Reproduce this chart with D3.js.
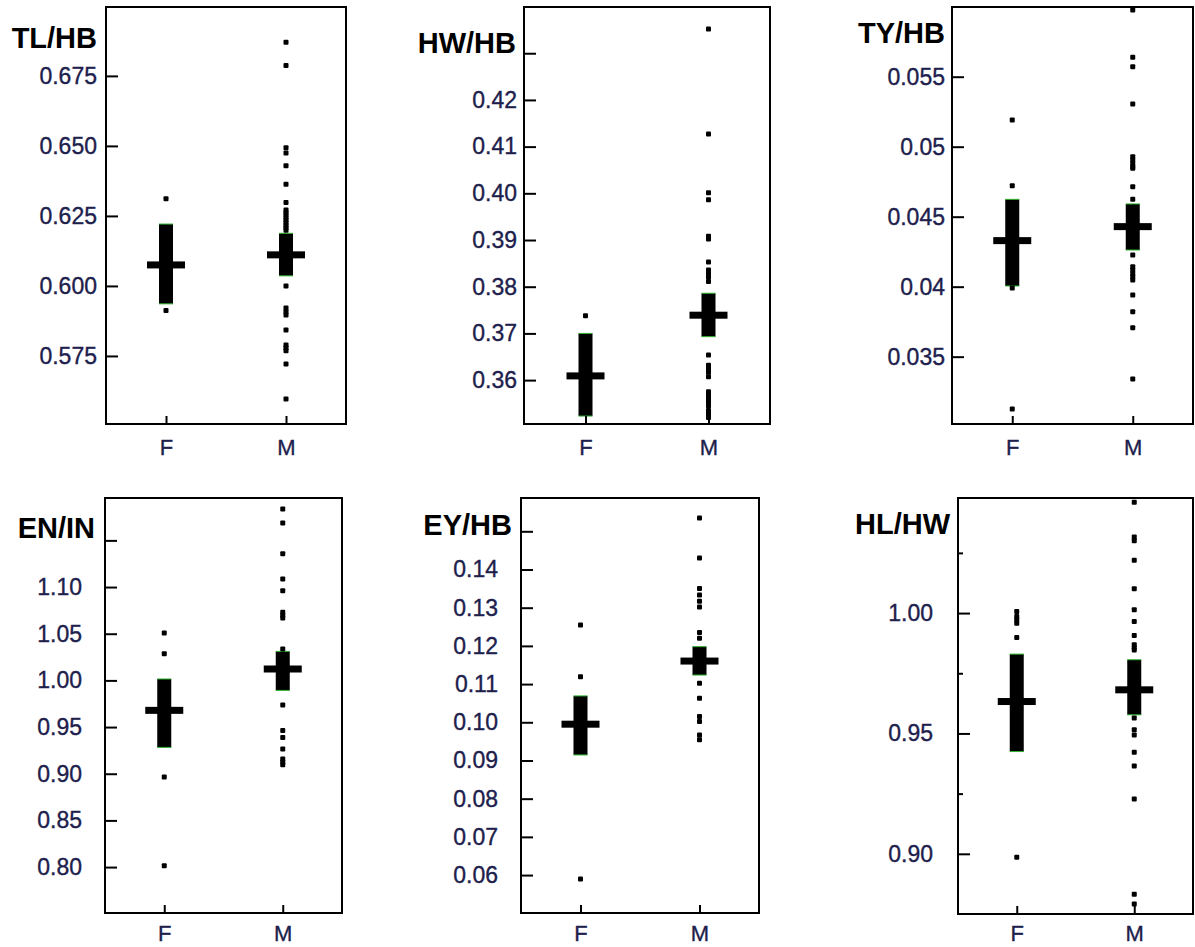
<!DOCTYPE html>
<html>
<head>
<meta charset="utf-8">
<script src="https://cdn.jsdelivr.net/npm/d3@7"></script>
<style>
  body { margin: 0; background: #fff; }
  svg { display: block; font-family: "Liberation Sans", Arial, sans-serif; }
  .tick text { fill: #20204c; stroke: #20204c; stroke-width: 0.35px; font-size: 23px; }
  .title { font-weight: bold; font-size: 29px; fill: #000; }
</style>
</head>
<body>
<svg id="chart" width="1195" height="947"></svg>
<script>
const groups = ["F", "M"]
const titles = ["TL/HB", "HW/HB", "TY/HB", "EN/IN", "EY/HB", "HL/HW"]

// TL/HB
const tlhbDomain = [0.5507, 0.6996]
const tlhbTicks = [0.575, 0.600, 0.625, 0.650, 0.675]
const tlhbTickLabels = ["0.575", "0.600", "0.625", "0.650", "0.675"]
const tlhbMean = [0.6075, 0.6111]
const tlhbBox = [[0.5936, 0.6221], [0.6036, 0.6188]]
const tlhbDotsF = [0.6311, 0.5912]
const tlhbDotsM = [0.6870, 0.6787, 0.6493, 0.6475, 0.6429, 0.6363, 0.6298, 0.6271, 0.6262, 0.6253, 0.6244, 0.6235,
  0.6226, 0.6217, 0.6208, 0.6199, 0.6000, 0.5921, 0.5908, 0.5896, 0.5843, 0.5789, 0.5779, 0.5769, 0.5721, 0.5596]

// HW/HB
const hwhbDomain = [0.3506, 0.4399]
const hwhbTicks = [0.36, 0.37, 0.38, 0.39, 0.40, 0.41, 0.42, 0.43]
const hwhbTickLabels = ["0.36", "0.37", "0.38", "0.39", "0.40", "0.41", "0.42", ""]
const hwhbMean = [0.3609, 0.3739]
const hwhbBox = [[0.3523, 0.3700], [0.3693, 0.3786]]
const hwhbDotsF = [0.3738]
const hwhbDotsM = [0.4352, 0.4127, 0.4001, 0.3986, 0.3908, 0.3902, 0.3853, 0.3836, 0.3829, 0.3821, 0.3811, 0.3654,
  0.3632, 0.3625, 0.3617, 0.3607, 0.3575, 0.3568, 0.3560, 0.3553, 0.3545, 0.3535, 0.3528, 0.3520]

// TY/HB
const tyhbDomain = [0.03019, 0.05998]
const tyhbTicks = [0.035, 0.040, 0.045, 0.050, 0.055]
const tyhbTickLabels = ["0.035", "0.04", "0.045", "0.05", "0.055"]
const tyhbMean = [0.04329, 0.04429]
const tyhbBox = [[0.04005, 0.04624], [0.04262, 0.04591]]
const tyhbDotsF = [0.0519, 0.04721, 0.0399, 0.03126]
const tyhbDotsM = [0.05976, 0.05639, 0.05571, 0.05305, 0.04929, 0.04905, 0.04881, 0.04857, 0.04846, 0.04714, 0.04624,
  0.04226, 0.04143, 0.04120, 0.04095, 0.04071, 0.04048, 0.03941, 0.03821, 0.03707, 0.03341]

// EN/IN
const eninDomain = [0.7508, 1.1954]
const eninTicks = [0.80, 0.85, 0.90, 0.95, 1.00, 1.05, 1.10, 1.15]
const eninTickLabels = ["0.80", "0.85", "0.90", "0.95", "1.00", "1.05", "1.10", ""]
const eninMean = [0.9679, 1.0122]
const eninBox = [[0.9282, 1.0015], [0.9893, 1.0311]]
const eninDotsF = [1.0508, 1.0286, 0.8965, 0.8015]
const eninDotsM = [1.1836, 1.1686, 1.1357, 1.1086, 1.0961, 1.0729, 1.0698, 1.0668, 1.0336, 0.9736, 0.9464, 0.9389,
  0.9265, 0.9158, 0.9127, 0.9097]

// EY/HB
const eyhbDomain = [0.05007, 0.15872]
const eyhbTicks = [0.06, 0.07, 0.08, 0.09, 0.10, 0.11, 0.12, 0.13, 0.14, 0.15]
const eyhbTickLabels = ["0.06", "0.07", "0.08", "0.09", "0.10", "0.11", "0.12", "0.13", "0.14", ""]
const eyhbMean = [0.0995, 0.11603]
const eyhbBox = [[0.09145, 0.1069], [0.11237, 0.1198]]
const eyhbDotsF = [0.12544, 0.1119, 0.05895]
const eyhbDotsM = [0.1535, 0.1430, 0.1350, 0.1333, 0.1317, 0.1302, 0.1235, 0.1220, 0.1102, 0.1063, 0.1015, 0.1002,
  0.0967, 0.0954]

// HL/HW
const hlhwDomain = [0.875, 1.0478]
const hlhwTicks = [0.90, 0.95, 1.00]
const hlhwTickLabels = ["0.90", "0.95", "1.00"]
const hlhwMinorTicks = [0.925, 0.975, 1.025]
const hlhwMean = [0.96326, 0.96812]
const hlhwBox = [[0.94248, 0.98296], [0.95773, 0.9806]]
const hlhwDotsF = [1.0007, 0.9986, 0.9972, 0.9958, 0.9899, 0.8986]
const hlhwDotsM = [1.046, 1.0316, 1.0300, 1.0219, 1.0101, 1.0014, 0.9965, 0.9907, 0.9868, 0.9857, 0.9847, 0.9564,
  0.9515, 0.9494, 0.9422, 0.9365, 0.9228, 0.8832, 0.8792]

// frame placement of each panel, in pixels
const layout = [
  {x0: 106, x1: 346, y0: 7, y1: 424, gap: 9, xpad: 15, tx: 97, ty: 48},
  {x0: 524, x1: 770, y0: 7, y1: 424, gap: 7, xpad: 15, tx: 516, ty: 53},
  {x0: 952, x1: 1193, y0: 7, y1: 424, gap: 7, xpad: 15, tx: 945, ty: 43},
  {x0: 105, x1: 342, y0: 498, y1: 913, gap: 23, xpad: 12, tx: 95, ty: 538},
  {x0: 521, x1: 759, y0: 498, y1: 913, gap: 23, xpad: 12, tx: 512, ty: 535},
  {x0: 958, x1: 1193, y0: 498, y1: 914, gap: 25, xpad: 11, tx: 950, ty: 534}
]

const panels = [
  {domain: tlhbDomain, ticks: tlhbTicks, labels: tlhbTickLabels, minor: [], mean: tlhbMean, box: tlhbBox, dots: [tlhbDotsF, tlhbDotsM]},
  {domain: hwhbDomain, ticks: hwhbTicks, labels: hwhbTickLabels, minor: [], mean: hwhbMean, box: hwhbBox, dots: [hwhbDotsF, hwhbDotsM]},
  {domain: tyhbDomain, ticks: tyhbTicks, labels: tyhbTickLabels, minor: [], mean: tyhbMean, box: tyhbBox, dots: [tyhbDotsF, tyhbDotsM]},
  {domain: eninDomain, ticks: eninTicks, labels: eninTickLabels, minor: [], mean: eninMean, box: eninBox, dots: [eninDotsF, eninDotsM]},
  {domain: eyhbDomain, ticks: eyhbTicks, labels: eyhbTickLabels, minor: [], mean: eyhbMean, box: eyhbBox, dots: [eyhbDotsF, eyhbDotsM]},
  {domain: hlhwDomain, ticks: hlhwTicks, labels: hlhwTickLabels, minor: hlhwMinorTicks, mean: hlhwMean, box: hlhwBox, dots: [hlhwDotsF, hlhwDotsM]}
]

const svg = d3.select("#chart")
svg.append("rect").attr("width", 1195).attr("height", 947).attr("fill", "#fff")

const boxW = 14, meanW = 38, meanH = 7, dotS = 5

panels.forEach((p, k) => {
  const L = layout[k]
  const g = svg.append("g")

  const x = d3.scalePoint().domain(groups).range([L.x0, L.x1]).padding(0.5)
  const y = d3.scaleLinear().domain(p.domain).range([L.y1, L.y0])

  // boxes
  g.selectAll(".box")
    .data(groups)
    .join("rect")
    .attr("x", d => x(d) - boxW / 2)
    .attr("width", boxW)
    .attr("y", (d, i) => y(p.box[i][1]))
    .attr("height", (d, i) => y(p.box[i][0]) - y(p.box[i][1]))
    .attr("fill", "#000")

  // thin green edges at top and bottom of boxes
  const edges = groups.flatMap((d, i) => [[d, p.box[i][0]], [d, p.box[i][1]]])
  g.selectAll(".edge")
    .data(edges)
    .join("line")
    .attr("x1", d => x(d[0]) - boxW / 2)
    .attr("x2", d => x(d[0]) + boxW / 2)
    .attr("y1", d => y(d[1]))
    .attr("y2", d => y(d[1]))
    .attr("stroke", "#2fb52f")
    .attr("stroke-width", 1)

  // mean bars
  g.selectAll(".mean")
    .data(groups)
    .join("rect")
    .attr("x", d => x(d) - meanW / 2)
    .attr("width", meanW)
    .attr("y", (d, i) => y(p.mean[i]) - meanH / 2)
    .attr("height", meanH)
    .attr("fill", "#000")

  // individual points
  const pts = groups.flatMap((d, i) => p.dots[i].map(v => [d, v]))
  g.selectAll(".dot")
    .data(pts)
    .join("rect")
    .attr("x", d => x(d[0]) - dotS / 2)
    .attr("y", d => y(d[1]) - dotS / 2)
    .attr("width", dotS)
    .attr("height", dotS)
    .attr("rx", 1)
    .attr("fill", "#000")

  // left axis, ticks pointing inward
  const yAxis = d3.axisLeft(y)
    .tickValues(p.ticks)
    .tickFormat((d, i) => p.labels[i])
    .tickSizeInner(-12)
    .tickSizeOuter(0)
    .tickPadding(L.gap)
  const ya = g.append("g").attr("transform", `translate(${L.x0},0)`).call(yAxis)
  ya.select(".domain").remove()
  ya.selectAll(".tick line").attr("stroke-width", 2)

  if (p.minor.length) {
    const ym = g.append("g").attr("transform", `translate(${L.x0},0)`)
      .call(d3.axisLeft(y).tickValues(p.minor).tickFormat("").tickSizeInner(-5).tickSizeOuter(0))
    ym.select(".domain").remove()
    ym.selectAll(".tick line").attr("stroke-width", 2)
  }

  // bottom axis
  const xAxis = d3.axisBottom(x).tickSizeInner(-8).tickSizeOuter(0).tickPadding(L.xpad)
  const xa = g.append("g").attr("transform", `translate(0,${L.y1})`).call(xAxis)
  xa.select(".domain").remove()
  xa.selectAll(".tick line").attr("stroke-width", 2)
  xa.selectAll(".tick text").style("font-size", "22px")

  // frame
  g.append("rect")
    .attr("x", L.x0).attr("y", L.y0)
    .attr("width", L.x1 - L.x0).attr("height", L.y1 - L.y0)
    .attr("fill", "none").attr("stroke", "#000").attr("stroke-width", 2)

  // title
  g.append("text")
    .attr("class", "title")
    .attr("x", L.tx).attr("y", L.ty)
    .attr("text-anchor", "end")
    .text(titles[k])
})
</script>
</body>
</html>
